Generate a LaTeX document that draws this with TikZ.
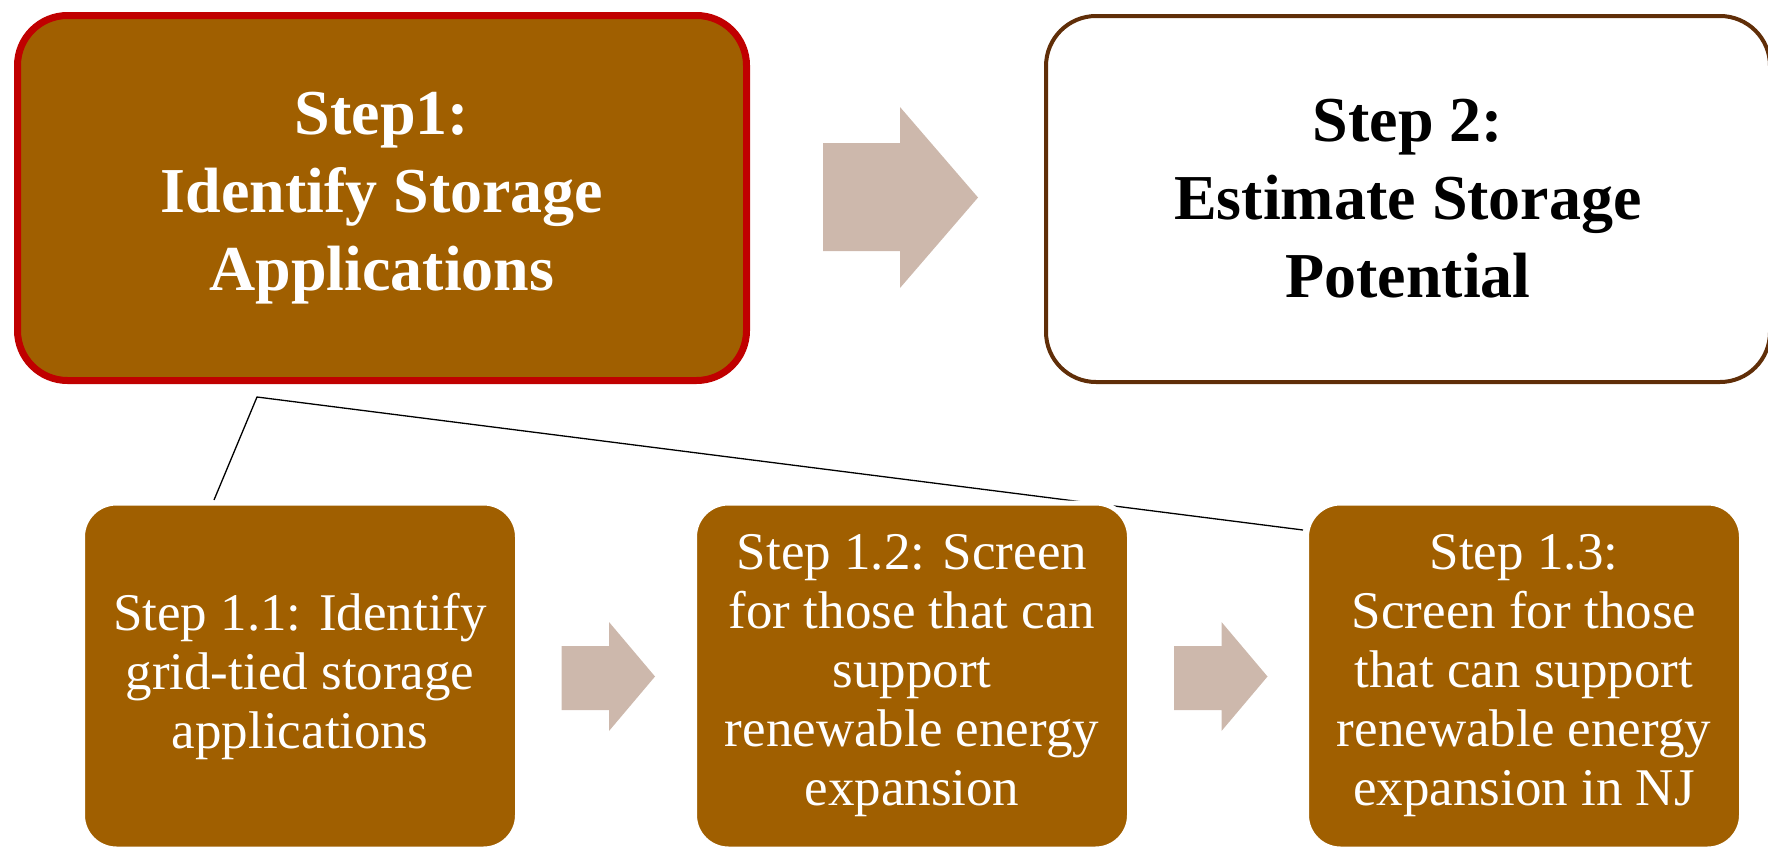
\documentclass[tikz,border=0pt]{standalone}
\usepackage{fontspec}
\setmainfont{Liberation Serif}
\definecolor{boxbrown}{RGB}{160,95,0}
\definecolor{redborder}{RGB}{192,0,0}
\definecolor{darkborder}{RGB}{96,46,8}
\definecolor{arrowfill}{RGB}{205,184,172}
\begin{document}
\begin{tikzpicture}[x=1pt,y=-1pt,
  bigbox/.style={rectangle,rounded corners=50pt,inner sep=0pt,align=center,
    font=\fontsize{64}{78}\selectfont\bfseries},
  subbox/.style={rectangle,rounded corners=34pt,inner sep=0pt,align=center,
    fill=boxbrown,draw=white,line width=5pt,text=white,
    minimum width=435pt,minimum height=346pt,
    font=\fontsize{53}{59}\selectfont},
  blockarrow/.style={fill=arrowfill,draw=none},
  link/.style={draw=black,line width=1.3pt}]
\useasboundingbox (0,0) rectangle (1768,846);

% top boxes
\node[bigbox,fill=boxbrown,draw=redborder,line width=7pt,text=white,
  minimum width=729pt,minimum height=365pt] (s1) at (382,198)
  {Step1:\\Identify Storage\\Applications};
\node[bigbox,fill=white,draw=darkborder,line width=4pt,text=black,
  minimum width=724pt,minimum height=366pt] (s2) at (1408,199)
  {Step 2:\\Estimate Storage\\Potential};

% big arrow
\fill[blockarrow] (823,143) -- (900,143) -- (900,107) -- (978,197.5)
  -- (900,288) -- (900,251) -- (823,251) -- cycle;

% connector lines (drawn beneath the sub boxes)
\coordinate (apex) at (257,397);
\coordinate (leftend) at (214,500);
\coordinate (rightend) at (1303,530);
\draw[link] (leftend) -- (apex) -- (rightend);

% sub boxes
\node[subbox] (b1) at (300,676) {Step 1.1: Identify\\grid-tied storage\\applications};
\node[subbox] (b2) at (912,676) {Step 1.2: Screen\\for those that can\\support\\renewable energy\\expansion};
\node[subbox] (b3) at (1524,676) {Step 1.3:\\Screen for those\\that can support\\renewable energy\\expansion in NJ};

% small arrows
\foreach \dx in {0,612.5}{
  \fill[blockarrow,xshift=\dx] (561.5,646) -- (609,646) -- (609,622) -- (655,676.5)
    -- (609,731) -- (609,710) -- (561.5,710) -- cycle;
}
\end{tikzpicture}
\end{document}
